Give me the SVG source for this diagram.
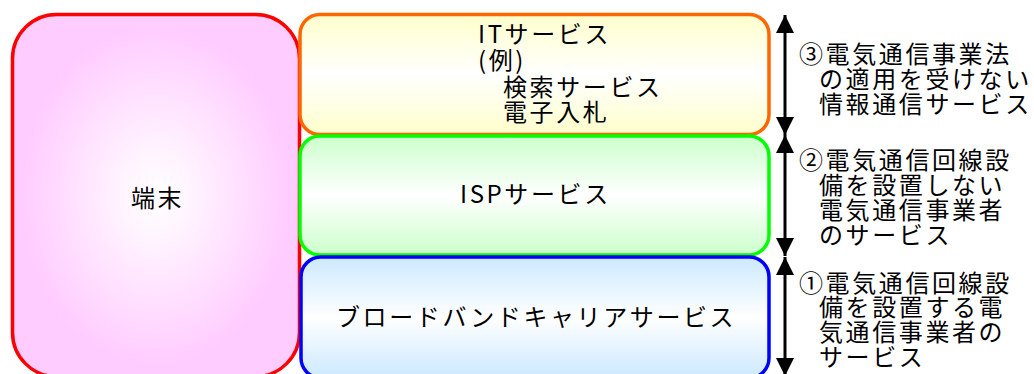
<svg xmlns="http://www.w3.org/2000/svg" width="1034" height="374" viewBox="0 0 1034 374">
<style>
  .box{stroke-width:3.5}
  .t{font-family:"Noto Sans CJK JP","Noto Sans CJK SC",sans-serif;font-size:24px;letter-spacing:2.6px;fill:#000}
  .arr{stroke:#000;stroke-width:3;fill:none;marker-start:url(#head);marker-end:url(#head)}
</style>
<defs>
  <radialGradient id="gPink" cx="0.5" cy="0.5" r="0.55">
    <stop offset="0" stop-color="#ffffff"/>
    <stop offset="0.25" stop-color="#fff2ff"/>
    <stop offset="0.85" stop-color="#ffccff"/>
    <stop offset="1" stop-color="#ffccff"/>
  </radialGradient>
  <linearGradient id="gYel" x1="0" y1="0" x2="0" y2="1">
    <stop offset="0" stop-color="#ffffcc"/>
    <stop offset="0.5" stop-color="#ffffff"/>
    <stop offset="1" stop-color="#ffffcc"/>
  </linearGradient>
  <linearGradient id="gGrn" x1="0" y1="0" x2="0" y2="1">
    <stop offset="0" stop-color="#ccffcc"/>
    <stop offset="0.5" stop-color="#ffffff"/>
    <stop offset="1" stop-color="#ccffcc"/>
  </linearGradient>
  <linearGradient id="gBlu" x1="0" y1="0" x2="0" y2="1">
    <stop offset="0" stop-color="#cce9ff"/>
    <stop offset="0.5" stop-color="#ffffff"/>
    <stop offset="1" stop-color="#cce9ff"/>
  </linearGradient>
  <marker id="head" markerUnits="userSpaceOnUse" markerWidth="18" markerHeight="18" viewBox="0 0 18 18" refX="18" refY="9" orient="auto-start-reverse">
    <path d="M0,0 L18,9 L0,18 Z" fill="#000"/>
  </marker>
</defs>

<g id="terminal">
  <rect class="box" x="12.5" y="14.5" width="287" height="362" rx="44" fill="url(#gPink)" stroke="#ff0000"/>
  <text class="t" x="131" y="207">端末</text>
</g>

<g id="it-service">
  <rect class="box" x="300" y="14.5" width="469" height="120" rx="20" fill="url(#gYel)" stroke="#ff6600"/>
  <text class="t" x="478" y="43">ITサービス</text>
  <text class="t" x="478" y="69">(例)</text>
  <text class="t" x="503" y="96">検索サービス</text>
  <text class="t" x="503" y="121">電子入札</text>
</g>

<g id="isp-service">
  <rect class="box" x="300" y="136" width="469" height="119" rx="20" fill="url(#gGrn)" stroke="#00ff00"/>
  <text class="t" x="460" y="203">ISPサービス</text>
</g>

<g id="broadband">
  <rect class="box" x="301" y="257" width="468" height="121" rx="20" fill="url(#gBlu)" stroke="#0000ff"/>
  <text class="t" x="336" y="326">ブロードバンドキャリアサービス</text>
</g>

<g id="connectors">
  <line class="arr" x1="785" y1="15" x2="785" y2="135"/>
  <line class="arr" x1="785" y1="135" x2="785" y2="256"/>
  <line class="arr" x1="785" y1="257" x2="785" y2="376"/>
</g>

<g id="label3">
  <text class="t" x="799" y="63">③電気通信事業法</text>
  <text class="t" x="819" y="88">の適用を受けない</text>
  <text class="t" x="819" y="113">情報通信サービス</text>
</g>
<g id="label2">
  <text class="t" x="799" y="169">②電気通信回線設</text>
  <text class="t" x="819" y="194">備を設置しない</text>
  <text class="t" x="819" y="219">電気通信事業者</text>
  <text class="t" x="819" y="244">のサービス</text>
</g>
<g id="label1">
  <text class="t" x="799" y="292">①電気通信回線設</text>
  <text class="t" x="819" y="316">備を設置する電</text>
  <text class="t" x="819" y="341">気通信事業者の</text>
  <text class="t" x="819" y="366">サービス</text>
</g>
</svg>
